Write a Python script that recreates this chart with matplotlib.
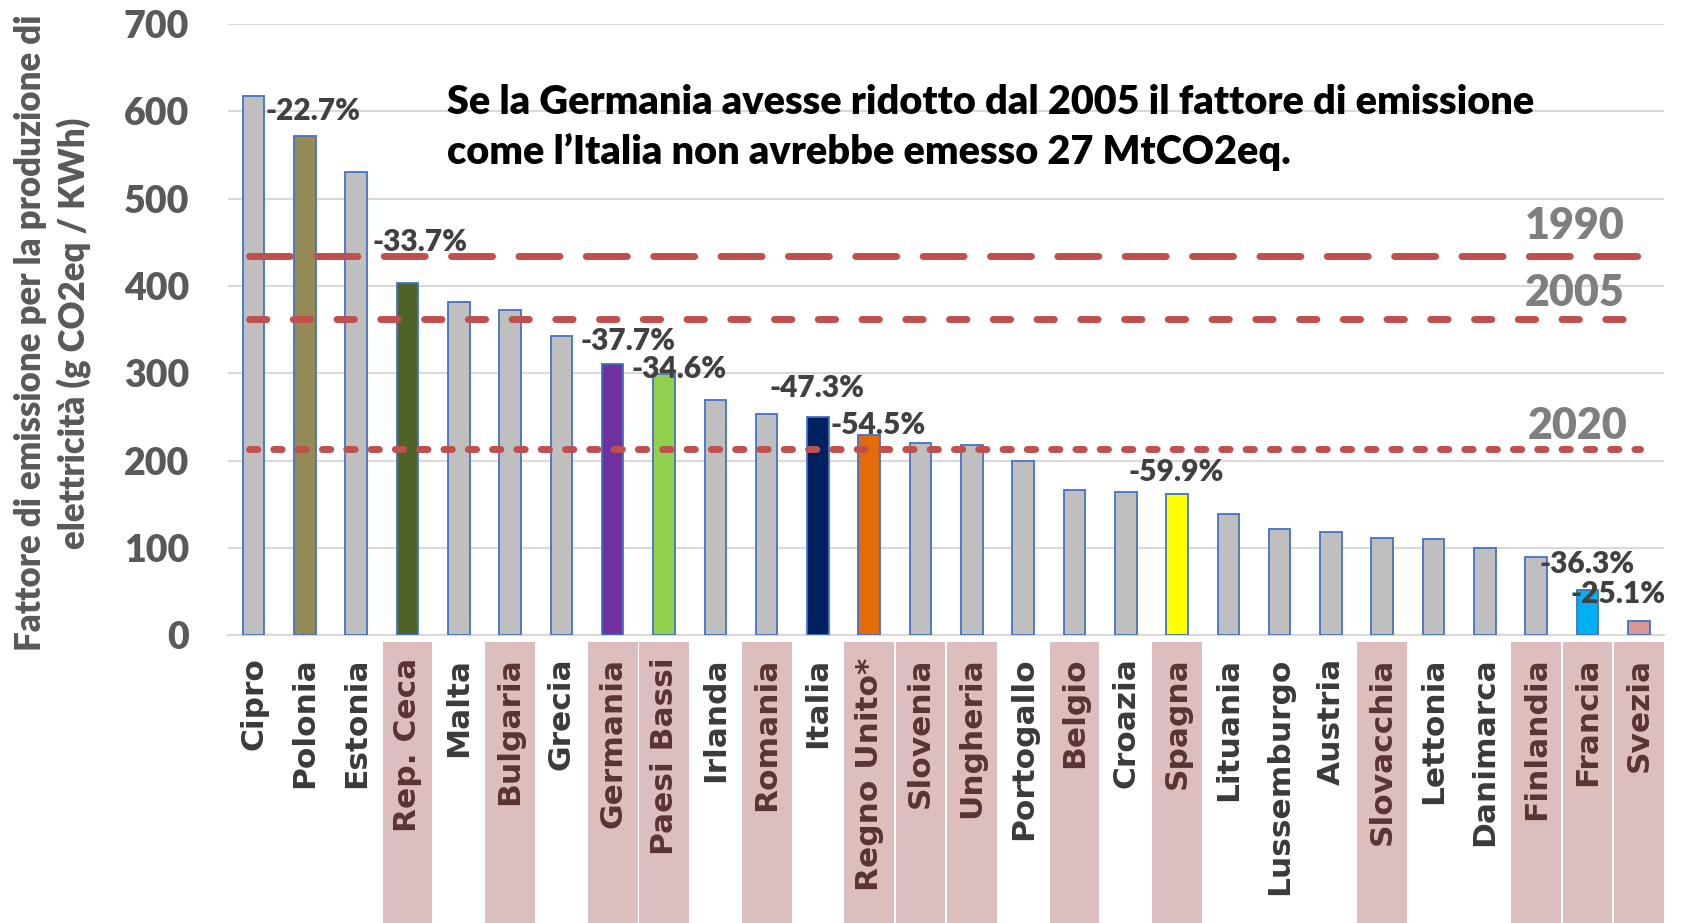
import matplotlib
matplotlib.use("Agg")
import matplotlib.pyplot as plt
from matplotlib.patches import Rectangle
from matplotlib.transforms import blended_transform_factory

# ---------------- data ----------------
countries = ["Cipro", "Polonia", "Estonia", "Rep. Ceca", "Malta", "Bulgaria", "Grecia",
             "Germania", "Paesi Bassi", "Irlanda", "Romania", "Italia", "Regno Unito*",
             "Slovenia", "Ungheria", "Portogallo", "Belgio", "Croazia", "Spagna",
             "Lituania", "Lussemburgo", "Austria", "Slovacchia", "Lettonia", "Danimarca",
             "Finlandia", "Francia", "Svezia"]
values = [617, 572, 530, 403, 382, 372, 343, 311, 299, 269, 253, 250, 229,
          220, 218, 200, 166, 164, 162, 139, 122, 118, 112, 110, 100, 90, 52, 17]
bar_colors = ["#BFBFBF", "#948A54", "#BFBFBF", "#4F6228", "#BFBFBF", "#BFBFBF", "#BFBFBF",
              "#7030A0", "#92D050", "#BFBFBF", "#BFBFBF", "#002060", "#E36C09",
              "#BFBFBF", "#BFBFBF", "#BFBFBF", "#BFBFBF", "#BFBFBF", "#FFFF00",
              "#BFBFBF", "#BFBFBF", "#BFBFBF", "#BFBFBF", "#BFBFBF", "#BFBFBF",
              "#BFBFBF", "#00B0F0", "#D99694"]
highlighted = ["Rep. Ceca", "Bulgaria", "Germania", "Paesi Bassi", "Romania", "Regno Unito*",
               "Slovenia", "Ungheria", "Belgio", "Spagna", "Slovacchia", "Finlandia",
               "Francia", "Svezia"]
pct_labels = ["-22.7%", "-33.7%", "-37.7%", "-34.6%", "-47.3%", "-54.5%", "-59.9%",
              "-36.3%", "-25.1%"]
pct_x = [0.23, 2.31, 6.37, 7.36, 10.06, 11.24, 17.06, 25.07, 25.66]
pct_y = [600, 450, 337, 305, 283, 241, 187, 82, 48]
ref_years = ["1990", "2005", "2020"]
ref_values = [434, 362, 213]
yticks = [0, 100, 200, 300, 400, 500, 600, 700]

# ---------------- figure ----------------
fig = plt.figure(figsize=(16.86, 9.23), dpi=100)
ax = fig.add_axes([0.1352, 0.3115, 0.8520, 0.6628])

x = list(range(len(countries)))
ax.bar(x, values, width=0.42, color=bar_colors, edgecolor="#4472C4", linewidth=1.3, zorder=3)

ax.set_xlim(-0.5, len(countries) - 0.5)
ax.set_ylim(0, 700)
ax.set_yticks(yticks)
ax.yaxis.grid(True, color="#D9D9D9", linewidth=1.5, zorder=0)
ax.set_axisbelow(True)
for s in ["top", "right", "left"]:
    ax.spines[s].set_visible(False)
ax.spines["bottom"].set_color("#D9D9D9")
ax.spines["bottom"].set_linewidth(1.5)
ax.tick_params(axis="y", length=0, pad=28, labelsize=27, labelcolor="#595959")
for t in ax.get_yticklabels():
    t.set_fontfamily("Lato")
    t.set_fontweight("heavy")

# category labels
ax.set_xticks(x)
ax.set_xticklabels([])
ax.tick_params(axis="x", length=0)
trans = blended_transform_factory(ax.transData, ax.transAxes)
for i, c in enumerate(countries):
    hl = c in highlighted
    if hl:
        ax.add_patch(Rectangle((i - 0.485, -0.48), 0.97, 0.469, transform=trans,
                               facecolor="#DCBEBE", edgecolor="none", clip_on=False, zorder=1))
    ax.text(i, -0.036, c, transform=trans, rotation=90, ha="center", va="top",
            fontsize=22.5, fontweight="bold", family="DejaVu Sans",
            color="#5A3434" if hl else "#3A3A3A", zorder=2, clip_on=False)

# reference lines
dash_styles = [(5.9, 3.8), (2.5, 3.8), (1.2, 2.3)]
for val, yr, ds in zip(ref_values, ref_years, dash_styles):
    ax.plot([-0.08, 27.02], [val, val], color="#C0504D", linewidth=5,
            dashes=ds, dash_capstyle="round", zorder=4)
ax.text(25.75, 468, ref_years[0], fontsize=31, fontweight="heavy", family="Lato",
        color="#7F7F7F", ha="center", va="center", zorder=5)
ax.text(25.75, 392, ref_years[1], fontsize=31, fontweight="heavy", family="Lato",
        color="#7F7F7F", ha="center", va="center", zorder=5)
ax.text(25.8, 240, ref_years[2], fontsize=31, fontweight="heavy", family="Lato",
        color="#7F7F7F", ha="center", va="center", zorder=5)

# percentage labels
for lbl, px, py in zip(pct_labels, pct_x, pct_y):
    ax.text(px, py, lbl, fontsize=21.5, fontweight="heavy", family="Lato",
            color="#404040", ha="left", va="center", zorder=6)

# annotation
fig.text(0.265, 0.862,
         "Se la Germania avesse ridotto dal 2005 il fattore di emissione\n"
         "come l\u2019Italia non avrebbe emesso 27 MtCO2eq.",
         fontsize=28.5, fontweight="heavy", family="Lato", color="black",
         ha="left", va="center", linespacing=1.4)

# y label
fig.text(0.0315, 0.639,
         "Fattore di emissione per la produzione di\nelettricit\u00e0 (g CO2eq / KWh)",
         rotation=90, fontsize=25, fontweight="heavy", family="Lato", color="#595959",
         ha="center", va="center", multialignment="center", linespacing=1.32)

fig.savefig("out.png", dpi=100)
